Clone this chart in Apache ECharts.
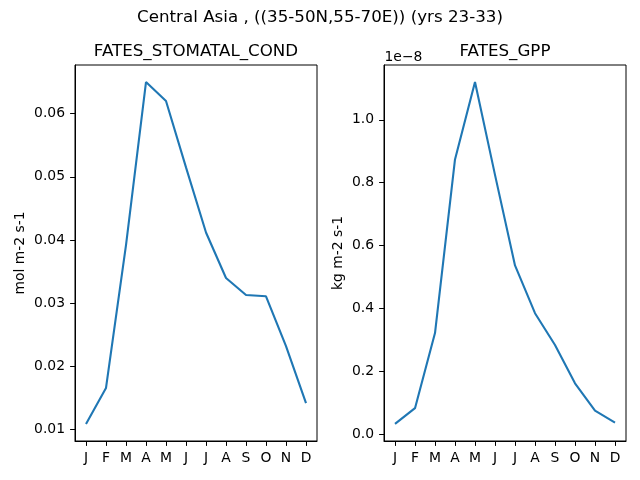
<!DOCTYPE html>
<html>
<head>
<meta charset="utf-8">
<script src="https://cdn.jsdelivr.net/npm/echarts@6/dist/echarts.min.js"></script>
<style>html,body{margin:0;padding:0;background:#fff}#c{width:640px;height:480px}</style>
</head>
<body>
<div id="c"></div>
<script>
// ---- data ----
const months = ['J','F','M','A','M','J','J','A','S','O','N','D'];
const monthIdx = [0,1,2,3,4,5,6,7,8,9,10,11];
// FATES_STOMATAL_COND (mol m-2 s-1)
const stomatalCond = [0.0109, 0.0166, 0.0392, 0.0650, 0.0620, 0.0515, 0.0412, 0.0340, 0.0313, 0.0311, 0.0232, 0.0142];
// FATES_GPP in units of 1e-8 kg m-2 s-1
const gppScaled = [0.033, 0.083, 0.322, 0.874, 1.120, 0.825, 0.537, 0.385, 0.284, 0.162, 0.075, 0.037];
const condTicks = [0.01, 0.02, 0.03, 0.04, 0.05, 0.06];
const gppTicks = [0.0, 0.2, 0.4, 0.6, 0.8, 1.0];
const supTitle = 'Central Asia , ((35-50N,55-70E)) (yrs 23-33)';
const titles = ['FATES_STOMATAL_COND', 'FATES_GPP'];
const yNames = ['mol m-2 s-1', 'kg m-2 s-1'];
const offsetText = '1e\u22128';

// ---- helpers ----
function padRange(arr){
  const lo = Math.min(...arr), hi = Math.max(...arr), p = 0.05*(hi-lo);
  return [lo-p, hi+p];
}
const FONT = 'DejaVu Sans';
const TICK_FS = 13.9;
const c1 = padRange(stomatalCond), c2 = padRange(gppScaled);

function xAxis(gi){
  return {
    type:'value', gridIndex:gi, min:-0.55, max:11.55,
    axisLine:{show:true, onZero:false, lineStyle:{color:'#000', width:1}},
    axisTick:{show:true, inside:false, length:4.9, lineStyle:{color:'#000', width:1}, customValues:monthIdx},
    axisLabel:{show:true, margin:10, color:'#000', fontFamily:FONT, fontSize:TICK_FS, customValues:monthIdx,
      formatter:(v)=>months[Math.round(v)]},
    splitLine:{show:false}
  };
}
function yAxis(gi, range, ticks, dec, name, gap){
  return {
    type:'value', gridIndex:gi, min:range[0], max:range[1],
    name:name, nameLocation:'middle', nameGap:gap, nameRotate:90,
    nameTextStyle:{color:'#000', fontFamily:FONT, fontSize:TICK_FS},
    axisLine:{show:true, onZero:false, lineStyle:{color:'#000', width:1}},
    axisTick:{show:true, inside:false, length:4.9, lineStyle:{color:'#000', width:1}, customValues:ticks},
    axisLabel:{show:true, margin:10, color:'#000', fontFamily:FONT, fontSize:TICK_FS, customValues:ticks,
      formatter:(v)=>v.toFixed(dec)},
    splitLine:{show:false}
  };
}
const titleStyle = (fs)=>({color:'#000', fontFamily:FONT, fontSize:fs, fontWeight:'normal'});

const chart = echarts.init(document.getElementById('c'), null, {renderer:'canvas'});
chart.setOption({
  animation:false,
  backgroundColor:'#fff',
  title:[
    {text:supTitle, left:320, top:9.5, padding:0, textAlign:'center', textStyle:titleStyle(16.7)},
    {text:titles[0], left:196, top:43, padding:0, textAlign:'center', textStyle:titleStyle(16.7)},
    {text:titles[1], left:505, top:43, padding:0, textAlign:'center', textStyle:titleStyle(16.7)},
    {text:offsetText, left:384.5, top:50, padding:0, textStyle:titleStyle(TICK_FS)}
  ],
  grid:[
    {left:75, top:65, width:242, height:376, show:true, borderColor:'#000', borderWidth:1, backgroundColor:'transparent'},
    {left:384, top:65, width:242, height:376, show:true, borderColor:'#000', borderWidth:1, backgroundColor:'transparent'}
  ],
  xAxis:[xAxis(0), xAxis(1)],
  yAxis:[
    yAxis(0, c1, condTicks, 2, yNames[0], 48),
    yAxis(1, c2, gppTicks, 1, yNames[1], 39)
  ],
  series:[
    {type:'line', xAxisIndex:0, yAxisIndex:0, showSymbol:false, silent:true,
     data:monthIdx.map((i)=>[i, stomatalCond[i]]), lineStyle:{color:'#1f77b4', width:2.1}},
    {type:'line', xAxisIndex:1, yAxisIndex:1, showSymbol:false, silent:true,
     data:monthIdx.map((i)=>[i, gppScaled[i]]), lineStyle:{color:'#1f77b4', width:2.1}}
  ]
});
</script>
</body>
</html>
